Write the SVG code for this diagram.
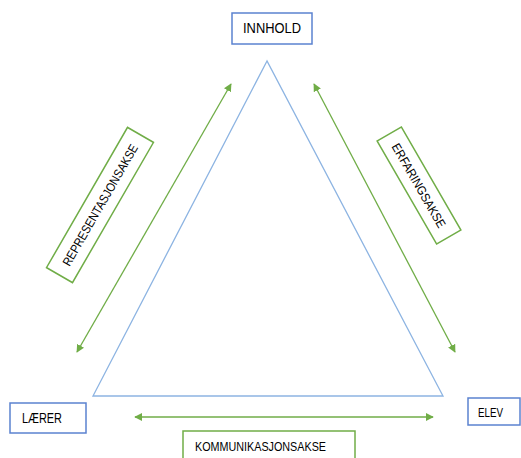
<svg xmlns="http://www.w3.org/2000/svg" width="521" height="458" viewBox="0 0 521 458">
<defs>
<style>
.node{fill:#fff;stroke:#5B82D0;stroke-width:1.5}
.axis{fill:#fff;stroke:#70AD47;stroke-width:1.5}
.t{font-family:"Liberation Sans",Arial,sans-serif;fill:#000}
.arr{stroke:#70AD47;stroke-width:1.3;fill:none;marker-start:url(#ah);marker-end:url(#ah)}
</style>
<marker id="ah" viewBox="0 0 10 10" refX="9" refY="5" markerWidth="8" markerHeight="8" markerUnits="userSpaceOnUse" orient="auto-start-reverse">
<path d="M0,0 L10,5 L0,10 Z" fill="#70AD47"/>
</marker>
</defs>
<rect width="521" height="458" fill="#fff"/>
<g id="triangle">
<polygon points="267,61 93,396 443,396" fill="none" stroke="#8DB4E2" stroke-width="1.3"/>
</g>
<g id="connectors">
<line class="arr" x1="77" y1="352" x2="231" y2="84"/>
<line class="arr" x1="314" y1="84" x2="455" y2="352"/>
<line class="arr" x1="135" y1="417" x2="433" y2="417"/>
</g>
<g id="innhold">
<rect class="node" x="232" y="13" width="80" height="31"/>
<text class="t" x="272" y="33" font-size="14" text-anchor="middle" textLength="58" lengthAdjust="spacingAndGlyphs">INNHOLD</text>
</g>
<g id="laerer">
<rect class="node" x="10" y="403" width="76" height="30"/>
<text class="t" x="22" y="423" font-size="14" textLength="40" lengthAdjust="spacingAndGlyphs">LÆRER</text>
</g>
<g id="elev">
<rect class="node" x="468" y="398" width="52" height="27"/>
<text class="t" x="478" y="417" font-size="13" textLength="25" lengthAdjust="spacingAndGlyphs">ELEV</text>
</g>
<g id="representasjonsakse" transform="translate(100,205) rotate(-60)">
<rect class="axis" x="-81" y="-15" width="162" height="30"/>
<text class="t" x="0" y="4.5" font-size="12.5" text-anchor="middle" textLength="138" lengthAdjust="spacingAndGlyphs">REPRESENTASJONSAKSE</text>
</g>
<g id="erfaringsakse" transform="translate(419,185.5) rotate(60)">
<rect class="axis" x="-59.5" y="-14" width="119" height="28"/>
<text class="t" x="0" y="4.5" font-size="12.5" text-anchor="middle" textLength="95" lengthAdjust="spacingAndGlyphs">ERFARINGSAKSE</text>
</g>
<g id="kommunikasjonsakse">
<rect class="axis" x="183" y="431" width="172" height="40"/>
<text class="t" x="195" y="451" font-size="12" textLength="131" lengthAdjust="spacingAndGlyphs">KOMMUNIKASJONSAKSE</text>
</g>
</svg>
